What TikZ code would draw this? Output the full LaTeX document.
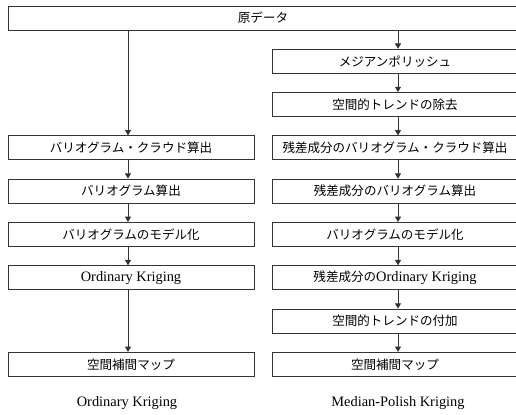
\documentclass[tikz,border=0pt]{standalone}
\usepackage{fontspec}
\setmainfont{Liberation Serif}
\newfontfamily\jp[Scale=0.87]{Noto Sans CJK JP}
\usetikzlibrary{arrows.meta}

\begin{document}
\begin{tikzpicture}[x=0.75pt,y=-0.75pt,
  box/.style={draw=black!80,line width=0.75pt,minimum height=18pt,inner sep=0pt,
    font=\fontsize{10.8}{13}\selectfont},
  colbox/.style={box,minimum width=184.5pt},
  flow/.style={draw=black!80,line width=0.75pt,-{Triangle[length=4pt,width=4.5pt]}},
  caption/.style={inner sep=0pt,font=\fontsize{10.8}{13}\selectfont}]
\useasboundingbox (0,0) rectangle (516,414);

\coordinate (lx) at (128,0);
\coordinate (rx) at (398,0);

\node[box,minimum width=382.5pt] (top) at (263,18) {\jp 原データ};

\node[colbox] (l1) at (131,147.9) {\jp バリオグラム・クラウド算出};
\node[colbox] (l2) at (131,191.2) {\jp バリオグラム算出};
\node[colbox] (l3) at (131,234.5) {\jp バリオグラムのモデル化};
\node[colbox] (l4) at (131,277.8) {Ordinary Kriging};
\node[colbox] (l5) at (131,364.4) {\jp 空間補間マップ};

\node[colbox] (r1) at (395,61.3) {\jp メジアンポリッシュ};
\node[colbox] (r2) at (395,104.6) {\jp 空間的トレンドの除去};
\node[colbox] (r3) at (395,147.9) {\jp 残差成分のバリオグラム・クラウド算出};
\node[colbox] (r4) at (395,191.2) {\jp 残差成分のバリオグラム算出};
\node[colbox] (r5) at (395,234.5) {\jp バリオグラムのモデル化};
\node[colbox] (r6) at (395,277.8) {{\jp 残差成分の}Ordinary Kriging};
\node[colbox] (r7) at (395,321.1) {\jp 空間的トレンドの付加};
\node[colbox] (r8) at (395,364.4) {\jp 空間補間マップ};

\draw[flow] (top.south -| lx) -- (l1.north -| lx);
\draw[flow] (l1.south -| lx) -- (l2.north -| lx);
\draw[flow] (l2.south -| lx) -- (l3.north -| lx);
\draw[flow] (l3.south -| lx) -- (l4.north -| lx);
\draw[flow] (l4.south -| lx) -- (l5.north -| lx);

\draw[flow] (top.south -| rx) -- (r1.north -| rx);
\draw[flow] (r1.south -| rx) -- (r2.north -| rx);
\draw[flow] (r2.south -| rx) -- (r3.north -| rx);
\draw[flow] (r3.south -| rx) -- (r4.north -| rx);
\draw[flow] (r4.south -| rx) -- (r5.north -| rx);
\draw[flow] (r5.south -| rx) -- (r6.north -| rx);
\draw[flow] (r6.south -| rx) -- (r7.north -| rx);
\draw[flow] (r7.south -| rx) -- (r8.north -| rx);

\node[caption] (lcap) at (127,403) {Ordinary Kriging};
\node[caption] (rcap) at (398,403) {Median-Polish Kriging};
\end{tikzpicture}
\end{document}
